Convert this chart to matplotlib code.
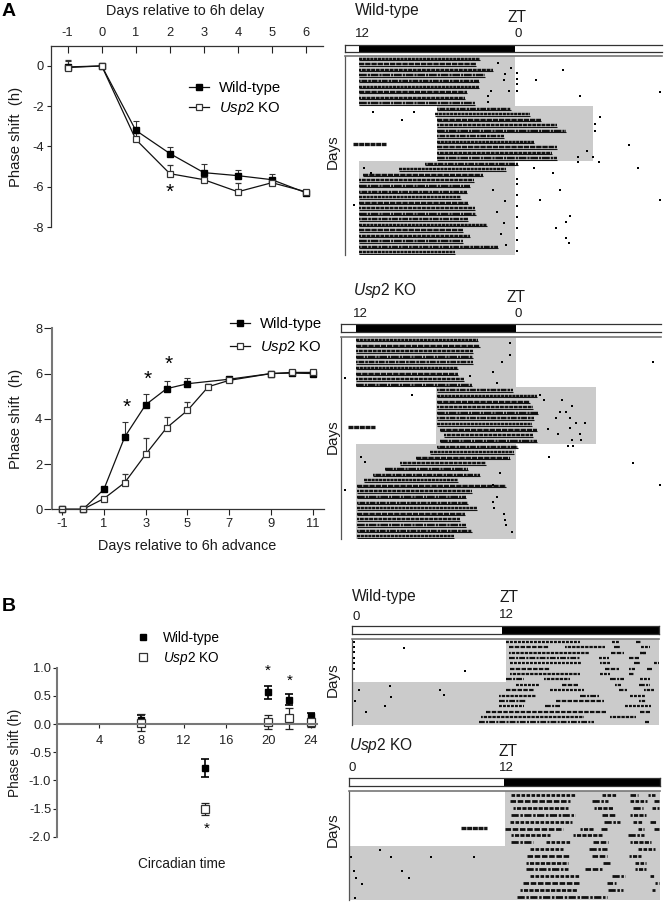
import matplotlib
matplotlib.use("Agg")
import matplotlib.pyplot as plt
from matplotlib.lines import Line2D

plt.rcParams['font.family'] = ['Liberation Sans', 'DejaVu Sans']
plt.rcParams['mathtext.fontset'] = 'custom'
plt.rcParams['mathtext.rm'] = 'Liberation Sans'
plt.rcParams['mathtext.it'] = 'Liberation Sans:italic'
plt.rcParams['mathtext.bf'] = 'Liberation Sans:bold'
plt.rcParams['axes.unicode_minus'] = False

W, H = 664, 902
KO_LABEL = r'$\mathit{Usp2}$ KO'
WT_LABEL = 'Wild-type'

# ---------- Panel A, delay ----------
delay_days = [-1, 0, 1, 2, 3, 4, 5, 6]
delay_wt = [-0.05, 0, -3.2, -4.35, -5.3, -5.45, -5.65, -6.3]
delay_wt_err = [0.3, 0.05, 0.45, 0.3, 0.45, 0.3, 0.3, 0.05]
delay_ko = [-0.08, 0, -3.65, -5.35, -5.65, -6.25, -5.8, -6.25]
delay_ko_err = [0.35, 0.05, 0.3, 0.42, 0.05, 0.45, 0.1, 0.1]

# ---------- Panel A, advance ----------
adv_days_wt = [-1, 0, 1, 2, 3, 4, 5, 7, 9, 10, 11]
adv_wt = [0, 0, 0.88, 3.2, 4.62, 5.33, 5.55, 5.75, 6.0, 6.02, 6.0]
adv_wt_err = [0, 0, 0.05, 0.65, 0.47, 0.35, 0.27, 0.05, 0.03, 0.08, 0.08]
adv_days_ko = [-1, 0, 1, 2, 3, 4, 5, 6, 7, 9, 10, 11]
adv_ko = [0, 0, 0.47, 1.18, 2.43, 3.6, 4.37, 5.42, 5.7, 6.0, 6.05, 6.05]
adv_ko_err = [0, 0, 0.05, 0.37, 0.73, 0.5, 0.38, 0.1, 0.1, 0.03, 0.08, 0.08]

# ---------- Panel B, phase response ----------
ct = [8, 14, 20, 22, 24]
prc_wt = [0.08, -0.78, 0.56, 0.43, 0.14]
prc_wt_err = [0.08, 0.16, 0.12, 0.1, 0.05]
prc_ko = [0.02, -1.51, 0.04, 0.1, 0.03]
prc_ko_err = [0.15, 0.1, 0.12, 0.18, 0.08]

# ---------- Actograms: hours on the x scale, day row on the y scale ----------
a1_on = [0]*9 + [6, 5.8, 6, 6, 6, 6, 6, 6, 6, 6] + [5.1, 3.1, 0.3] + [0]*14
a1_off = [9.3, 9.0, 10.3, 9.7, 9.2, 9.2, 8.3, 8.1, 8.9,
          11.7, 13.1, 14.0, 15.2, 15.9, 11.1, 13.4, 15.2, 14.8, 15.2,
          12.2, 11.3, 9.5, 8.8, 8.5, 8.3, 7.8, 8.4, 8.9, 9.0, 8.4, 9.8, 8.0, 8.5, 8.0, 10.7, 7.4]
a1_spk_h = [12.1, 12.1, 12.1, 12.1, 15.7, 13.6, 17, 23.1, 18.5, 1.1, 4.2, 3.3, 18.1, 18.1, 20.7, 17.5, 18, 16.8, 18.4,
            16.8, 21.4, 13.4, 14.9, 12.1, 12.1, 12.1, 12.1, 12.1, 12.1, 12.1, 12.1, 15.4, 13.9, 23.1, 16.2, 15.9, 15.1, 15.9, 16.1, -0.4,
            10.7, 11.2, 11.7, 11.1, 10.1, 11.5, 9.9, 9.9, 0.4, 0.9, 10.3, 11.2, 10.6, 11.1, 10.9, 11.3]
a1_spk_r = [2.6, 3.6, 4.6, 5.8, 2, 3.8, 6.7, 6, 10.6, 9.7, 9.7, 11, 11.8, 13, 15.6, 16.6, 17.7, 17.7, 18.7,
            18.7, 19.8, 19.8, 20.7, 21.7, 22.7, 24.7, 26.7, 28.7, 30.7, 32.7, 34.7, 23.7, 25.6, 25.6, 28.5, 29.5, 30.6, 32.4, 33.4, 26.5,
            0.8, 2.8, 1.6, 3.8, 5.8, 5.8, 6.7, 7.8, 19.7, 20.7, 23.7, 25.7, 27.7, 29.7, 31.7, 33.7]
a1_blob = (15.5, -0.43, 2.1)

a2_on = [0]*9 + [6.1]*7 + [6.3, 6.6, 6.3] + [6.1, 5.6, 4.5, 3.3, 2.2, 1.3, 0.6] + [0.1]*10
a2_off = [9.2, 9.3, 8.8, 8.8, 8.8, 7.7, 7.7, 8.1, 8.7,
          11.8, 13.6, 13.1, 13.3, 13.7, 13.4, 13.2, 13.6, 13.3, 13.6,
          12.2, 11.9, 11.6, 9.8, 8.4, 9.3, 7.7, 11.3, 8.7, 8.3, 8.4, 9.1, 8.2, 7.8, 8.3, 8.7, 7.4]
a2_spk_h = [-0.8, 4.2, 22.3, 22.8, -0.8, 11.6, 11.6, 11, 10.3, 8.6, 10.6, 15.5, 16.2, 15.8, 16.1, 17.2, 16.1, 16.8, 16.2,
            16.3, 14.1, 13.8, 14.5, 20.8, 10.8, 10.3, 10.6, 10.3, 10.4, 11.1, 11.2, 11.3, 11.7, 0.4, 0.7,
            15, 16.5, 14.4, 15.2, 16.9, 15.9, 15.3]
a2_spk_r = [6.8, 9.8, 4, 25.9, 26.8, 0.6, 2.7, 3.9, 5.7, 6.5, 7.7, 10.7, 11.8, 12.8, 13.9, 14.9, 15.8, 16.8, 17.9,
            18.9, 10.7, 9.8, 20.8, 22, 23.8, 25.9, 28, 28.9, 30, 31, 32.1, 33, 34.2, 20.8, 21.7,
            13.9, 14.9, 15.9, 16.8, 17.9, 18.9, 12.8]
a2_blob = (15.6, -0.55, 1.45)

b1_on = [12.3, 12.5, 12.5, 12.5, 12.6, 12.6, 12.6, 12.3, 13.1, 12.3, 11.7, 11.7, 11.7, 10.7, 10.3, 10.1]
b1_off = [18.2, 15.7, 18.9, 18.2, 18.3, 15.8, 18.2, 13.7, 15.0, 14.5, 14.7, 13.9, 13.7, 20.3, 18.5, 19.3]
b1_ext_r = [0, 0, 1, 1, 1, 2, 2, 2, 3, 3, 4, 4, 4, 5, 5, 5, 6, 6, 7, 7, 7, 8, 8, 8, 9, 9, 9, 10, 10, 11, 11, 12, 12, 13, 14, 15]
b1_ext_s = [20.8, 22.7, 17, 20.9, 23.1, 20.7, 23, 23, 19.7, 22.1, 19.8, 22.5, 24.1, 20.2, 22.1, 23.6, 19.8, 22.1, 15.3, 20.6, 23, 16.8, 21, 22.9, 15.8, 21.3, 23.3, 18.2, 22.2, 16.3, 22.9, 15.4, 21.8, 23, 20.6, 23.4]
b1_ext_e = [21.3, 23.1, 20.2, 21.4, 23.8, 21.7, 23.5, 23.5, 20.5, 22.9, 20.6, 23, 24.5, 21.3, 22.6, 24, 20.6, 22.5, 17.4, 21.7, 23.8, 18.1, 21.5, 23.8, 18.5, 22, 24.1, 19.7, 23.4, 20.1, 23.5, 16.6, 23.9, 23.8, 22.7, 23.7]
b1_spk_h = [0.1, 0.1, 0.1, 0.1, 0.1, 0.1, 4.1, 9, 0.5, 3.1, 0.2, 2.6, 1.1, 7, 7.3, 3.0]
b1_spk_r = [0, 1, 2, 3, 4, 5, 1.2, 5.4, 9, 10.2, 11, 12, 13, 9, 10, 8.2]

b2_on = [12.6, 12.5, 12.7, 12.6, 12.5, 12.1, 12.6, 12.6, 14, 13.8, 13.7, 13.7, 14, 13.5, 13.3, 13]
b2_off = [17.6, 17.1, 17, 17.5, 17.3, 16.6, 15.6, 14.3, 16.6, 17.1, 17, 17, 17.8, 17.8, 17.7, 20]
b2_ext_r = [0, 0, 0, 1, 1, 1, 2, 2, 2, 3, 3, 4, 4, 4, 5, 5, 5, 5, 6, 6, 7, 7, 7, 8, 8, 9, 9, 10, 10, 11, 11, 12, 12, 13, 13, 14, 14]
b2_ext_s = [19.6, 21.8, 23.2, 18.8, 21.8, 23.6, 19, 22, 23.5, 19.6, 21.8, 19.8, 22, 23.3, 17.9, 19.5, 22.4, 23.6, 17.4, 21.6, 15.3, 18.9, 21.8, 18.6, 22.4, 18.8, 21.7, 19.7, 22.2, 18.3, 22.2, 20.4, 23.3, 20, 23.7, 20.1, 23.5]
b2_ext_e = [20.7, 22.4, 23.7, 20.1, 23.1, 24, 20.5, 22.8, 24, 20.7, 23, 21, 22.7, 23.9, 19, 20, 22.9, 24, 19.6, 22.9, 17.1, 20.1, 23.4, 20, 23.7, 20, 22.6, 20.2, 23, 19.6, 23, 21.4, 23.7, 20.7, 24, 21.2, 23.7]
b2_spk_h = [2.4, 6.4, 3.3, 0.2, 9.7, 0.4, 4.1, 0.6, 4.7, 1, 0.5]
b2_spk_r = [8.2, 9.2, 9.2, 9.2, 9.2, 11.2, 11.2, 12.2, 12.3, 13.2, 15.2]
b2_blob = (5, 8.7, 10.7)

# shaded block boundaries: first row, row count, start hour, end hour
a1_blocks = [(0, 9, 0, 12), (9, 10, 6, 18), (19, 17, 0, 12)]
a2_blocks = [(0, 9, 0, 12), (9, 10, 6, 18), (19, 17, 0, 12)]
b1_blocks = [(0, 8, 12.27, 24.56), (8, 8, 0, 24.56)]
b2_blocks = [(0, 8, 12.1, 24.1), (8, 8, 0, 24.1)]


def axes_px(fig, left, top, right, bottom):
    return fig.add_axes([left / W, 1 - bottom / H, (right - left) / W, (bottom - top) / H])


fig = plt.figure(figsize=(W / 100, H / 100), dpi=100)


def label(x, y, s, **kw):
    kw.setdefault('ha', 'center')
    kw.setdefault('va', 'center')
    kw.setdefault('fontsize', 10.6)
    kw.setdefault('color', '#1a1a1a')
    fig.text(x / W, 1 - y / H, s, **kw)


WT_STYLE = dict(marker='s', ms=4.0, mfc='black', mec='black', color='#111111', lw=0.9)
KO_STYLE = dict(marker='s', ms=4.8, mfc='white', mec='#333333', mew=0.9, color='#111111', lw=0.9)
ERR = dict(ecolor='#333333', elinewidth=0.8, capsize=2.2, capthick=0.8, clip_on=False)
TICK_FS = 9.3


def series(ax, x, y, e, style, lab):
    lo = [0] * len(e)
    c = ax.errorbar(x, y, yerr=[lo, e], label=lab, **style, **ERR)
    c[0].set_clip_on(False)
    return c


def proxies(with_line=True):
    if with_line:
        return [Line2D([], [], label=WT_LABEL, **WT_STYLE), Line2D([], [], label=KO_LABEL, **KO_STYLE)]
    return [Line2D([], [], ls='none', marker='s', ms=4.8, mfc='black', mec='black', label=WT_LABEL),
            Line2D([], [], ls='none', marker='s', ms=5.4, mfc='white', mec='#333333', mew=0.9, label=KO_LABEL)]


# ---------- delay plot ----------
ax = axes_px(fig, 51, 46, 323, 227)
series(ax, delay_days, delay_wt, delay_wt_err, WT_STYLE, WT_LABEL)
series(ax, delay_days, delay_ko, delay_ko_err, KO_STYLE, KO_LABEL)
ax.set_xlim(-1.49, 6.5)
ax.set_ylim(-8, 0.99)
ax.set_xticks(delay_days)
ax.set_yticks([0, -2, -4, -6, -8])
ax.set_yticklabels(['0', '-2', '-4', '-6', '-8'])
ax.xaxis.tick_top()
ax.tick_params(axis='x', direction='in', length=5, width=0.8, labelsize=TICK_FS, pad=5, colors='#222222')
ax.tick_params(axis='y', length=3, width=0.8, labelsize=TICK_FS, pad=2, colors='#222222')
ax.spines['right'].set_visible(False)
ax.spines['bottom'].set_visible(False)
for s in ('top', 'left'):
    ax.spines[s].set_linewidth(0.9)
    ax.spines[s].set_color('#333333')
ax.text(2, -6.3, '*', fontsize=15, ha='center', va='center', color='black')
ax.legend(handles=proxies(), loc='upper left', bbox_to_anchor=(189 / W, 1 - 81 / H), bbox_transform=fig.transFigure,
          frameon=False, fontsize=10.7, handlelength=1.35, handletextpad=0.67, labelspacing=0.34,
          borderpad=0, borderaxespad=0)

# ---------- advance plot ----------
ax = axes_px(fig, 52, 328.3, 324, 509.3)
series(ax, adv_days_wt, adv_wt, adv_wt_err, WT_STYLE, WT_LABEL)
series(ax, adv_days_ko, adv_ko, adv_ko_err, KO_STYLE, KO_LABEL)
ax.set_xlim(-1.48, 11.53)
ax.set_ylim(0, 8)
ax.set_xticks([-1, 1, 3, 5, 7, 9, 11])
ax.set_yticks([0, 2, 4, 6, 8])
ax.tick_params(axis='both', length=4, width=0.8, labelsize=TICK_FS, pad=2, colors='#222222')
ax.tick_params(axis='y', length=6, pad=1)
ax.spines['right'].set_visible(False)
ax.spines['top'].set_visible(False)
ax.spines['left'].set_linewidth(1.5)
ax.spines['left'].set_color('#777777')
ax.spines['bottom'].set_linewidth(0.9)
ax.spines['bottom'].set_color('#333333')
for d, v in zip([2, 3, 4], [4.5, 5.75, 6.4]):
    ax.text(d + 0.08, v, '*', fontsize=15, ha='center', va='center', color='black')
ax.legend(handles=proxies(), loc='upper left', bbox_to_anchor=(230 / W, 1 - 317 / H), bbox_transform=fig.transFigure,
          frameon=False, fontsize=10.7, handlelength=1.35, handletextpad=0.67, labelspacing=0.54,
          borderpad=0, borderaxespad=0)

# ---------- phase response plot ----------
ax = axes_px(fig, 56.7, 667.7, 317, 836.7)
PT_WT = dict(fmt='s', ms=5, mfc='black', mec='black', ecolor='black', elinewidth=1.2, capsize=3, capthick=1.2, clip_on=False)
PT_KO = dict(fmt='s', ms=5.6, mfc='white', mec='#333333', mew=0.9, ecolor='#222222', elinewidth=0.9, capsize=3, capthick=0.9, clip_on=False)
ax.errorbar(ct, prc_wt, yerr=prc_wt_err, label=WT_LABEL, **PT_WT)
ax.errorbar(ct, prc_ko, yerr=prc_ko_err, label=KO_LABEL, **PT_KO)
ax.set_xlim(0, 24.6)
ax.set_ylim(-2, 1)
ax.set_xticks([4, 8, 12, 16, 20, 24])
ax.set_yticks([1.0, 0.5, 0.0, -0.5, -1.0, -1.5, -2.0])
ax.set_yticklabels(['1.0', '0.5', '0.0', '-0.5', '-1.0', '-1.5', '-2.0'])
ax.spines['right'].set_visible(False)
ax.spines['top'].set_visible(False)
ax.spines['bottom'].set_position(('data', 0))
for s in ('left', 'bottom'):
    ax.spines[s].set_linewidth(1.5)
    ax.spines[s].set_color('#777777')
ax.tick_params(axis='x', length=3, width=0.8, labelsize=TICK_FS, pad=5, colors='#222222')
ax.tick_params(axis='y', length=3, width=0.8, labelsize=TICK_FS, pad=1, colors='#222222')
for x, y in zip([19.9, 22, 14.2], [0.94, 0.77, -1.86]):
    ax.text(x, y, '*', fontsize=11, ha='center', va='center', color='black')
ax.legend(handles=proxies(False), loc='upper left', bbox_to_anchor=(137.6 / W, 1 - 631 / H), bbox_transform=fig.transFigure,
          frameon=False, fontsize=9.8, handlelength=0.8, handletextpad=1.07, labelspacing=0.35,
          borderpad=0, borderaxespad=0)

# ---------- actograms ----------
BANDS = [(0, (1.3, 0.25)), (0, (2.2, 0.35)), (0.7, (1.6, 0.3)), (0, (3.2, 0.4, 0.9, 0.3)), (0.4, (1.1, 0.3, 2.4, 0.4))]
BANDS_LOOSE = [(0, (1.3, 0.5)), (0, (2.0, 0.6)), (0.7, (1.5, 0.45)), (0, (2.6, 0.6, 0.9, 0.5))]


def actogram(left, right, zero, twelve, top, bottom, bar_top, bar_bot, nrows, blocks, on, off,
             spk_h, spk_r, ext=None, blob=None, dark_from=0.0, dark_to=12.0, band=1.75):
    pxh = (twelve - zero) / 12.0
    xlim = ((left - zero) / pxh, (right - zero) / pxh)

    bar = axes_px(fig, left, bar_top, right, bar_bot)
    bar.barh(0, dark_to - dark_from, left=dark_from, height=1, color='black')
    bar.set_xlim(*xlim)
    bar.set_ylim(-0.5, 0.5)
    bar.set_xticks([])
    bar.set_yticks([])
    for s in bar.spines.values():
        s.set_linewidth(0.9)
        s.set_color('#333333')
    bar.spines['right'].set_visible(dark_from > 0)

    a = axes_px(fig, left, top, right, bottom)
    for first, n, s, e in blocks:
        a.barh(first + n / 2 - 0.5, e - s, left=s, height=n, color='#cbcbcb', lw=0)
    rows = list(range(len(on)))
    if ext is None:
        a.hlines([r + 0.28 for r in rows], on, off, color='#151515', lw=0.8)
    a.hlines([r + 0.02 for r in rows], on, off, color='#101010', lw=band,
             linestyles=BANDS if ext is None else BANDS_LOOSE)
    if ext is not None:
        rr, ss, ee = ext
        a.hlines([r + 0.02 for r in rr], ss, ee, color='#101010', lw=band, linestyles=BANDS_LOOSE)
    a.scatter(spk_h, spk_r, marker='s', s=3.0, color='black', lw=0)
    if blob is not None:
        a.hlines([blob[0]], [blob[1]], [blob[2]], color='#151515', lw=2.4, linestyles=[(0, (1.5, 0.2))])
    a.set_xlim(*xlim)
    a.set_ylim(nrows - 0.5, -0.5)
    a.set_xticks([])
    a.set_yticks([])
    for s in ('right', 'bottom'):
        a.spines[s].set_visible(False)
    a.spines['top'].set_color('#777777')
    a.spines['top'].set_linewidth(1.2)
    a.spines['left'].set_color('#555555')
    a.spines['left'].set_linewidth(0.9)
    a.patch.set_alpha(0)


actogram(345, 661.7, 359, 515.3, 56, 255, 45, 52.3, 36, a1_blocks, a1_on, a1_off, a1_spk_h, a1_spk_r, blob=a1_blob)
actogram(341.3, 661, 355.7, 515.7, 337, 539, 324, 331.7, 36, a2_blocks, a2_on, a2_off, a2_spk_h, a2_spk_r, blob=a2_blob)
actogram(352.3, 659.3, 352.3, 502.3, 639, 725, 626.3, 634.3, 16, b1_blocks, b1_on, b1_off, b1_spk_h, b1_spk_r,
         ext=(b1_ext_r, b1_ext_s, b1_ext_e), dark_from=12.0, dark_to=24.56, band=1.6)
actogram(348.7, 660, 348.7, 503.7, 791, 900, 777.7, 786, 16, b2_blocks, b2_on, b2_off, b2_spk_h, b2_spk_r,
         ext=(b2_ext_r, b2_ext_s, b2_ext_e), blob=b2_blob, dark_from=12.0, dark_to=24.1, band=2.0)

# ---------- figure text ----------
label(9, 11, 'A', fontsize=14, fontweight='bold', color='black')
label(9, 606.5, 'B', fontsize=14, fontweight='bold', color='black')
label(185.5, 11.5, 'Days relative to 6h delay', fontsize=10.4)
label(187, 546, 'Days relative to 6h advance', fontsize=10.4)
label(182, 864.5, 'Circadian time', fontsize=9.8)
label(16.5, 137, 'Phase shift  (h)', rotation=90, fontsize=10.7)
label(16.5, 419, 'Phase shift  (h)', rotation=90, fontsize=10.7)
label(15, 752.5, 'Phase shift (h)', rotation=90, fontsize=9.8)
for y in (152, 437, 680, 830):
    label(333, y, 'Days', rotation=90, fontsize=11)

for x, y, s, kw in [
    (355, 10, WT_LABEL, dict(ha='left')), (516.7, 18, 'ZT', {}), (362.7, 34, '12', {}), (518, 34, '0', {}),
    (352.7, 290, KO_LABEL, dict(ha='left')), (516, 297, 'ZT', {}), (360.7, 314, '12', {}), (517.7, 314, '0', {}),
    (351.7, 596, WT_LABEL, dict(ha='left')), (509, 598, 'ZT', {}), (356, 617, '0', {}), (506, 615, '12', {}),
    (349, 745.7, KO_LABEL, dict(ha='left')), (508, 751.7, 'ZT', {}), (352, 767.7, '0', {}), (506.7, 767.7, '12', {}),
]:
    fs = 11.2 if s in (WT_LABEL, KO_LABEL, 'ZT') else 9.5
    label(x, y, s, fontsize=fs, **kw)

fig.savefig('out.png', dpi=100)
